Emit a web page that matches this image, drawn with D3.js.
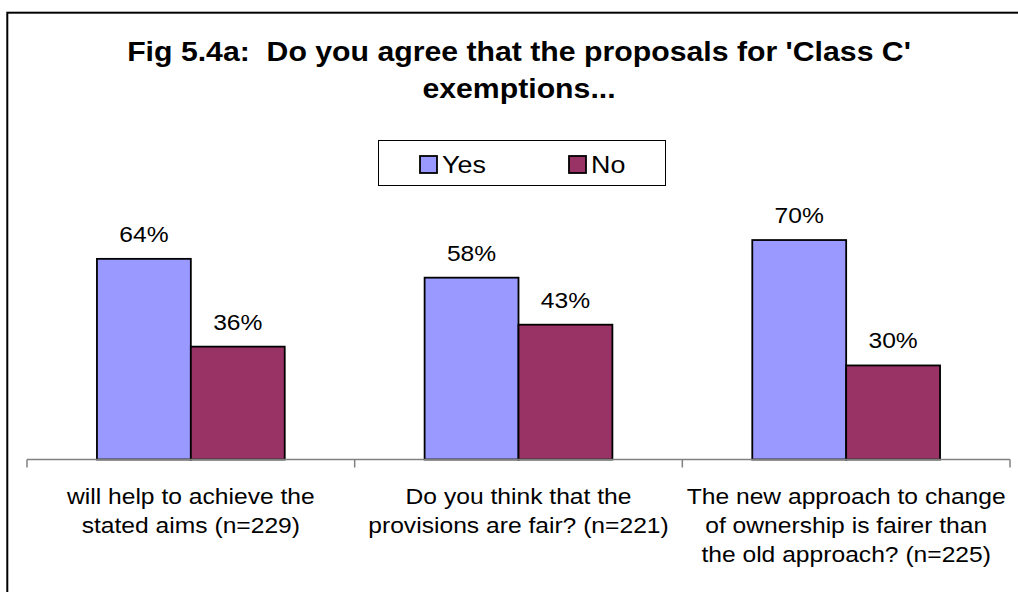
<!DOCTYPE html>
<html>
<head>
<meta charset="utf-8">
<script src="https://cdn.jsdelivr.net/npm/d3@7"></script>
<style>
  html, body { margin: 0; padding: 0; background: #fff; }
  svg { display: block; font-family: "Liberation Sans", Arial, sans-serif; }
</style>
</head>
<body>
<svg id="chart" width="1018" height="592"></svg>
<script>
// data
const categories = ["aims", "fair", "ownership"];
const categoryLabels = [
  ["will help to achieve the", "stated aims (n=229)"],
  ["Do you think that the", "provisions are fair? (n=221)"],
  ["The new approach to change", "of ownership is fairer than", "the old approach? (n=225)"]
];
const seriesNames = ["Yes", "No"];
const yesValues = [64, 58, 70];
const noValues = [36, 43, 30];
const titleLines = ["Fig 5.4a:  Do you agree that the proposals for 'Class C'", "exemptions..."];

const colors = { Yes: "#9999ff", No: "#993366" };
const stretch = 1.12; // the original text is drawn a bit wide

const svg = d3.select("#chart");

// helper: put a line of text at (x, y), widened a little
function addText(parent, x, y, str, size, opts = {}) {
  return parent.append("text")
    .attr("transform", `translate(${x},${y}) scale(${stretch},1)`)
    .attr("text-anchor", opts.anchor || "middle")
    .attr("font-size", size)
    .attr("font-weight", opts.bold ? "bold" : null)
    .style("white-space", "pre")
    .attr("fill", "#000")
    .text(str);
}

// outer frame (runs off the right and bottom of the picture)
svg.append("rect")
  .attr("x", 7.3).attr("y", 12.7)
  .attr("width", 1100).attr("height", 700)
  .attr("fill", "none").attr("stroke", "#000").attr("stroke-width", 2);

// title
titleLines.forEach((t, i) => addText(svg, 519, 61 + i * 37, t, 27, { bold: true }));

// scales
const baseline = 459.5;
const x0 = d3.scaleBand().domain(categories).range([27, 1010]).padding(0);
const x1 = d3.scaleBand().domain(seriesNames).range([0, x0.bandwidth()])
  .paddingInner(0).paddingOuter(0.745);
const y = d3.scaleLinear().domain([0, 80]).range([baseline, baseline - 80 * 3.135]);

const rows = categories.map((c, i) => ({
  cat: c,
  values: [{ key: "Yes", v: yesValues[i] }, { key: "No", v: noValues[i] }]
}));

// bars
const groups = svg.append("g").selectAll("g")
  .data(rows)
  .enter().append("g")
  .attr("transform", d => `translate(${x0(d.cat)},0)`);

groups.selectAll("rect")
  .data(d => d.values)
  .enter().append("rect")
  .attr("x", d => x1(d.key))
  .attr("y", d => y(d.v))
  .attr("width", x1.bandwidth())
  .attr("height", d => y(0) - y(d.v))
  .attr("fill", d => colors[d.key])
  .attr("stroke", "#000")
  .attr("stroke-width", 1.8);

groups.each(function (d) {
  const g = d3.select(this);
  d.values.forEach(p => {
    addText(g, x1(p.key) + x1.bandwidth() / 2, y(p.v) - 17, p.v + "%", 22);
  });
});

// x axis
const xAxis = svg.append("g").attr("transform", `translate(0,${baseline})`);
xAxis.append("line")
  .attr("x1", x0.range()[0]).attr("x2", x0.range()[1])
  .attr("stroke", "#808080").attr("stroke-width", 1.5);
const tickPos = categories.map(c => x0(c)).concat([x0.range()[1]]);
xAxis.selectAll(".tick")
  .data(tickPos)
  .enter().append("line")
  .attr("class", "tick")
  .attr("x1", d => d).attr("x2", d => d)
  .attr("y1", 0).attr("y2", 8)
  .attr("stroke", "#808080").attr("stroke-width", 1.5);

// category labels
const labelG = svg.append("g");
categories.forEach((c, i) => {
  categoryLabels[i].forEach((line, j) => {
    addText(labelG, x0(c) + x0.bandwidth() / 2, 504 + j * 29, line, 22);
  });
});

// legend
const legend = svg.append("g");
legend.append("rect")
  .attr("x", 378.5).attr("y", 140.5)
  .attr("width", 287).attr("height", 45)
  .attr("fill", "#fff").attr("stroke", "#000").attr("stroke-width", 1);
const legendX = [420, 569];
const items = legend.selectAll("g")
  .data(seriesNames)
  .enter().append("g")
  .attr("transform", (d, i) => `translate(${legendX[i]},156)`);
items.append("rect")
  .attr("width", 17).attr("height", 17)
  .attr("fill", d => colors[d])
  .attr("stroke", "#000").attr("stroke-width", 1.8);
items.each(function (d) {
  addText(d3.select(this), 22, 17, d, 24, { anchor: "start" });
});
</script>
</body>
</html>
